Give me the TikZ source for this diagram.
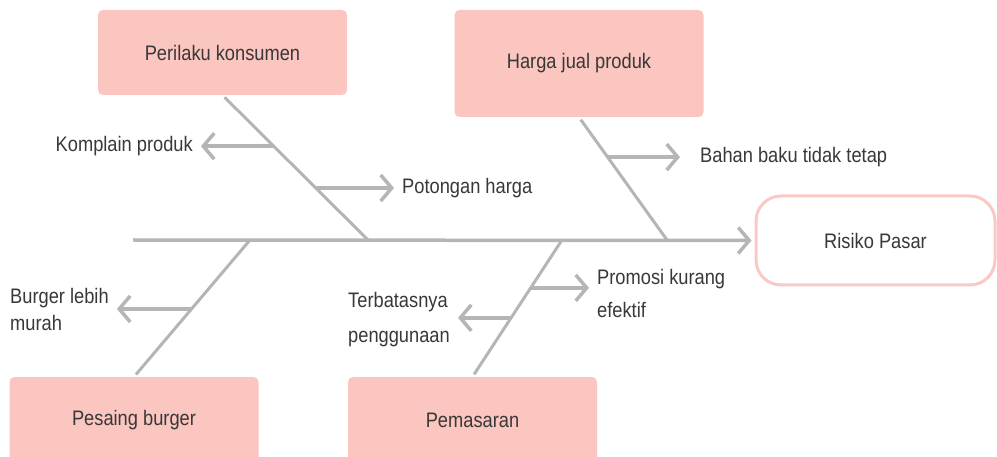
\documentclass[tikz,border=0pt]{standalone}
\usepackage{fontspec}
\setmainfont{Liberation Sans}[FakeStretch=0.87]
\usetikzlibrary{arrows.meta,calc}
\definecolor{boxpink}{HTML}{FBC5C0}
\definecolor{rimpink}{HTML}{FAC9C5}
\definecolor{bonegray}{HTML}{B5B5B5}
\definecolor{inkgray}{HTML}{383838}
\tikzset{
    causebox/.style={fill=boxpink,rounded corners=5pt,minimum width=249pt,text=inkgray},
    cause/.style={text=inkgray,align=left,inner xsep=8pt,inner ysep=2pt},
    bone/.style={draw=bonegray,line width=3pt,shorten <=3pt},
    twig/.style={draw=bonegray,line width=3.5pt,-{Straight Barb[length=11pt,width=26pt]}},
}
\begin{document}
\begin{tikzpicture}[x=1pt,y=-1pt,font=\fontsize{21}{25}\selectfont]
        \useasboundingbox (0,0) rectangle (997,457);
        \node[causebox,minimum height=85pt] (perilaku) at (222.5,52.5) {Perilaku konsumen};
        \node[causebox,minimum height=107pt] (harga) at (579,63.5) {Harga jual produk};
        \node[causebox,minimum height=86pt] (pesaing) at (134,420) {Pesaing burger};
        \node[causebox,minimum height=86pt] (pemasaran) at (472.5,420) {Pemasaran};
        \node[draw=rimpink,line width=3pt,fill=white,rounded corners=25pt,
            minimum width=239pt,minimum height=89pt,text=inkgray] (risiko) at (875.5,240.5) {Risiko Pasar};
        \coordinate (s0) at (133,240);
        \coordinate (j1) at (368,240);
        \coordinate (j2) at (667,240);
        \coordinate (j3) at (250,240);
        \coordinate (j4) at (562,240);
        \draw[draw=bonegray,line width=3.5pt,-{Straight Barb[length=11pt,width=26pt]},shorten >=3pt]
            (s0) -- (risiko.west);
        \draw[bone] (perilaku.south) -- (j1);
        \draw[bone] (harga.south) -- (j2);
        \draw[bone] (pesaing.north) -- (j3);
        \draw[bone] (pemasaran.north) -- (j4);
        \node[cause,anchor=east] (komplain) at (201,146) {Komplain produk};
        \node[cause,anchor=west] (potongan) at (394,188) {Potongan harga};
        \node[cause,anchor=west] (bahan) at (692,157) {Bahan baku tidak tetap};
        \node[cause,anchor=west] (burger) at (2,309.5) {Burger lebih\\[2pt]murah};
        \node[cause,anchor=west] (promosi) at (589,293) {Promosi kurang\\[8pt]efektif};
        \node[cause,anchor=west] (terbatas) at (340,319.5) {Terbatasnya\\[10pt]penggunaan};
        \coordinate (k1) at ($(perilaku.south)!0.352!(j1)$);
        \coordinate (k2) at ($(perilaku.south)!0.641!(j1)$);
        \coordinate (k3) at ($(harga.south)!0.325!(j2)$);
        \coordinate (k4) at ($(pesaing.north)!0.496!(j3)$);
        \coordinate (k5) at ($(pemasaran.north)!0.650!(j4)$);
        \coordinate (k6) at ($(pemasaran.north)!0.431!(j4)$);
        \draw[twig] (k1) -- (k1 -| komplain.east);
        \draw[twig] (k2) -- (k2 -| potongan.west);
        \draw[twig,shorten >=12pt] (k3) -- (k3 -| bahan.west);
        \draw[twig] (k4) -- (k4 -| burger.east);
        \draw[twig] (k5) -- (k5 -| promosi.west);
        \draw[twig] (k6) -- (k6 -| terbatas.east);
    \end{tikzpicture}
\end{document}
